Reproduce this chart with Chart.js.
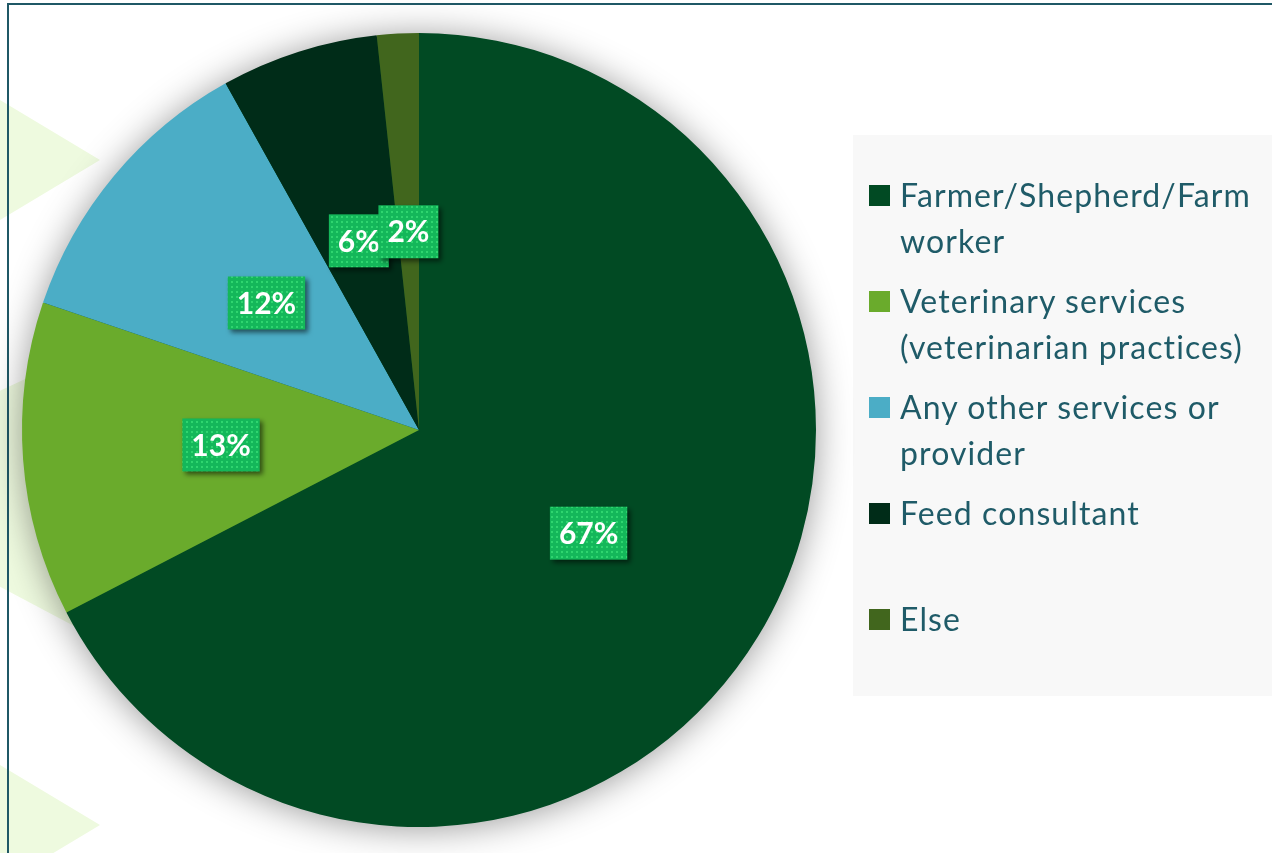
<!DOCTYPE html>
<html>
<head>
<meta charset="utf-8">
<script src="https://cdn.jsdelivr.net/npm/chart.js@4.4.0/dist/chart.umd.min.js"></script>
<style>
  html, body { margin: 0; padding: 0; background: #ffffff; }
  #wrap { position: relative; width: 1272px; height: 853px; overflow: hidden; }
  .deco { position: absolute; background: #eefadf; }
  #tri1 { left: 0; top: 100px; width: 100px; height: 120px; clip-path: polygon(0 0, 100% 50%, 0 100%); }
  #tri2 { left: 0; top: 360px; width: 200px; height: 280px; clip-path: polygon(0 11%, 15% 6%, 65% 50%, 37% 95%, 0 81%); }
  #tri3 { left: 0; top: 765px; width: 100px; height: 120px; clip-path: polygon(0 0, 100% 50%, 0 100%); }
  #frameTop { position: absolute; left: 7px; top: 3px; width: 1265px; height: 2px; background: #1f5866; }
  #frameLeft { position: absolute; left: 7px; top: 3px; width: 2px; height: 850px; background: #1f5866; }
  #chart { position: absolute; left: 0; top: 0; }
  #legendBox { position: absolute; left: 853px; top: 135px; width: 419px; height: 561px; background: #f8f8f8; }
  #legend { position: absolute; left: 869px; top: 172px; width: 403px; font-family: Lato, "Open Sans", sans-serif; font-size: 32px; letter-spacing: 1.1px; color: #1f5b68; }
  .item { position: relative; height: 106px; }
  .item .sw { position: absolute; left: 0; top: 13px; width: 21px; height: 21px; }
  .item .tx { position: absolute; left: 31px; top: 0; width: 372px; line-height: 46px; }
</style>
</head>
<body>
<div id="wrap">
  <div class="deco" id="tri1"></div>
  <div class="deco" id="tri2"></div>
  <div class="deco" id="tri3"></div>
  <div id="frameTop"></div>
  <div id="frameLeft"></div>
  <div id="legendBox"></div>
  <canvas id="chart" width="1272" height="853"></canvas>
  <div id="legend"></div>
</div>
<script>
// who does the work on the farm - shares in %
const labels = [
  "Farmer/Shepherd/Farm worker",
  "Veterinary services (veterinarian practices)",
  "Any other services or provider",
  "Feed consultant",
  "Else"
];
const shares = [67.4, 12.8, 11.7, 6.4, 1.7];
const shareLabels = ["67%", "13%", "12%", "6%", "2%"];
const colors = ["#014a23", "#6aab2c", "#4badc6", "#002c18", "#41661d"];

// dotted green fill for the value boxes
function makePattern(ctx) {
  const c = document.createElement("canvas");
  c.width = 5; c.height = 5;
  const p = c.getContext("2d");
  p.fillStyle = "#14b75a";
  p.fillRect(0, 0, 5, 5);
  p.fillStyle = "#2fd56f";
  p.fillRect(1, 1, 2, 2);
  return ctx.createPattern(c, "repeat");
}

const pieShadow = {
  id: "pieShadow",
  beforeDatasetsDraw(chart) {
    const arc = chart.getDatasetMeta(0).data[0];
    if (!arc) return;
    const ctx = chart.ctx;
    ctx.save();
    ctx.shadowColor = "rgba(0,0,0,0.42)";
    ctx.shadowBlur = 36;
    ctx.shadowOffsetY = 2;
    ctx.fillStyle = "#014a23";
    ctx.beginPath();
    ctx.arc(arc.x, arc.y, arc.outerRadius - 1, 0, Math.PI * 2);
    ctx.fill();
    ctx.restore();
  }
};

const valueBoxes = {
  id: "valueBoxes",
  afterDatasetsDraw(chart) {
    const ctx = chart.ctx;
    const pattern = makePattern(ctx);
    ctx.save();
    ctx.font = "bold 30px Lato, 'Open Sans', sans-serif";
    ctx.textAlign = "center";
    ctx.textBaseline = "middle";
    chart.getDatasetMeta(0).data.forEach((arc, i) => {
      const pos = arc.tooltipPosition();
      const txt = shareLabels[i];
      const w = ctx.measureText(txt).width + 18;
      const h = 53;
      ctx.save();
      ctx.shadowColor = "rgba(0,0,0,0.55)";
      ctx.shadowBlur = 5;
      ctx.shadowOffsetX = 3;
      ctx.shadowOffsetY = 3;
      ctx.fillStyle = pattern;
      ctx.fillRect(pos.x - w / 2, pos.y - h / 2, w, h);
      ctx.restore();
      ctx.fillStyle = "#ffffff";
      ctx.fillText(txt, pos.x, pos.y + 1);
    });
    ctx.restore();
  }
};

const chart = new Chart(document.getElementById("chart"), {
  type: "pie",
  data: {
    labels: labels,
    datasets: [{
      data: shares,
      backgroundColor: colors,
      borderWidth: 0
    }]
  },
  options: {
    responsive: false,
    animation: false,
    layout: { padding: { left: 22, right: 456, top: 33, bottom: 26 } },
    plugins: {
      legend: { display: false },
      tooltip: { enabled: false }
    }
  },
  plugins: [pieShadow, valueBoxes]
});

// legend on the right, built from the same arrays
const legendEl = document.getElementById("legend");
labels.forEach((lab, i) => {
  const item = document.createElement("div");
  item.className = "item";
  const sw = document.createElement("div");
  sw.className = "sw";
  sw.style.background = colors[i];
  const tx = document.createElement("div");
  tx.className = "tx";
  tx.textContent = lab;
  item.appendChild(sw);
  item.appendChild(tx);
  legendEl.appendChild(item);
});
</script>
</body>
</html>
